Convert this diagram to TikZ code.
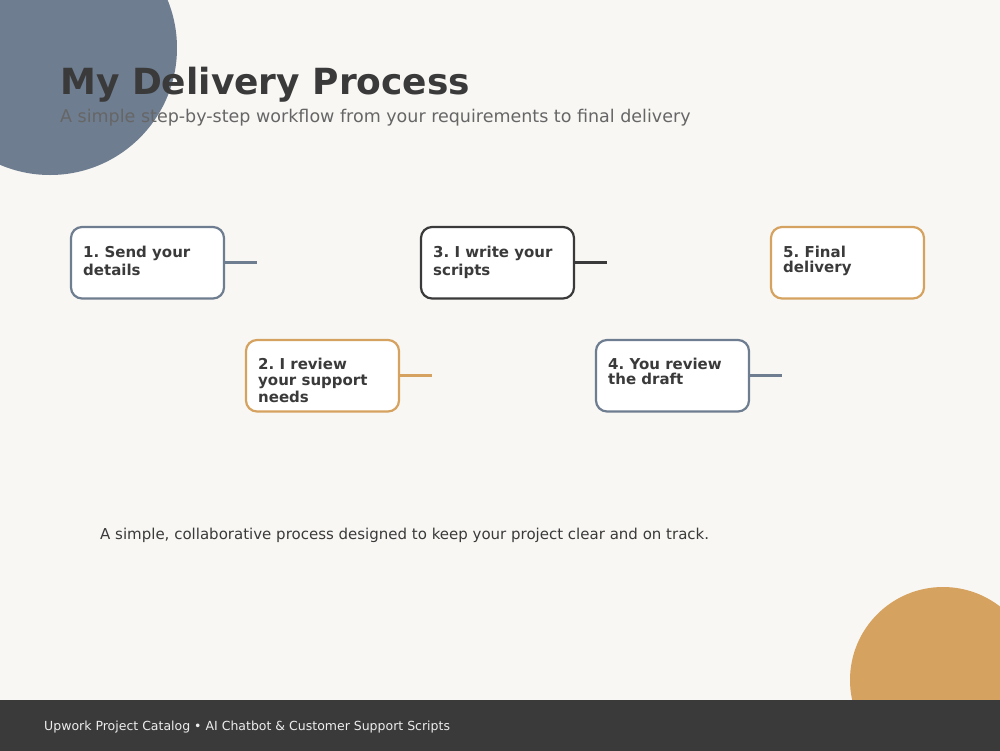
\documentclass[tikz,border=0pt]{standalone}
\usepackage{fontspec}
\setmainfont{DejaVu Sans}
\frenchspacing
\definecolor{bg}{HTML}{F8F7F4}
\definecolor{slate}{HTML}{6E7D90}
\definecolor{gold}{HTML}{D6A25F}
\definecolor{dark}{HTML}{3A3A3A}
\definecolor{sub}{HTML}{666666}
\definecolor{foot}{HTML}{EDEDED}
\begin{document}
\begin{tikzpicture}[x=1pt,y=-1pt,
  stepbox/.style={draw, line width=2.2pt, rounded corners=11pt, fill=white, minimum width=153pt, minimum height=71.5pt, anchor=north west, inner sep=0pt, outer sep=0pt},
  steptext/.style={anchor=base west, inner sep=0pt, font=\fontsize{15}{15}\selectfont\bfseries, text=dark},
  link/.style={line width=2.8pt}]
\useasboundingbox (0,0) rectangle (1000,750);
\begin{scope}
\clip (0,0) rectangle (1000,700);
\fill[bg] (-10,-10) rectangle (1010,710);
\fill[slate] (50,48) circle (127);
\fill[gold] (943,680) circle (93);
\end{scope}
\fill[dark] (-10,700) rectangle (1010,760);
\node[anchor=base west, inner sep=0pt, text=dark, font=\fontsize{36}{36}\selectfont\bfseries] (title) at (60,94) {My Delivery Process};
\node[anchor=base west, inner sep=0pt, text=sub, font=\fontsize{17.5}{17.5}\selectfont] (subtitle) at (60,122) {A simple step-by-step workflow from your requirements to final delivery};
% boxes
\node[stepbox, draw=slate] (b1) at (71,227) {};
\node[stepbox, draw=gold] (b2) at (246,340) {};
\node[stepbox, draw=dark] (b3) at (421,227) {};
\node[stepbox, draw=slate] (b4) at (596,340) {};
\node[stepbox, draw=gold] (b5) at (771,227) {};
\coordinate (e1) at (257,262.5);
\coordinate (e2) at (432,375.5);
\coordinate (e3) at (607,262.5);
\coordinate (e4) at (782,375.5);
\draw[link, slate] (b1.east) -- (b1.east -| e1);
\draw[link, gold] (b2.east) -- (b2.east -| e2);
\draw[link, dark] (b3.east) -- (b3.east -| e3);
\draw[link, slate] (b4.east) -- (b4.east -| e4);
% texts
\node[steptext] (t1a) at (83,257) {1. Send your};
\node[steptext] (t1b) at (83,275) {details};
\node[steptext] (t2a) at (258,369) {2. I review};
\node[steptext] (t2b) at (258,385) {your support};
\node[steptext] (t2c) at (258,402) {needs};
\node[steptext] (t3a) at (433,257) {3. I write your};
\node[steptext] (t3b) at (433,275) {scripts};
\node[steptext] (t4a) at (608,369) {4. You review};
\node[steptext] (t4b) at (608,384) {the draft};
\node[steptext] (t5a) at (783,257) {5. Final};
\node[steptext] (t5b) at (783,272) {delivery};
\node[anchor=base west, inner sep=0pt, text=dark, font=\fontsize{15}{15}\selectfont] (caption) at (100,539) {A simple, collaborative process designed to keep your project clear and on track.};
\node[anchor=base west, inner sep=0pt, text=foot, font=\fontsize{12.5}{12.5}\selectfont] (footer) at (44,730) {Upwork Project Catalog • AI Chatbot \& Customer Support Scripts};
\end{tikzpicture}
\end{document}
